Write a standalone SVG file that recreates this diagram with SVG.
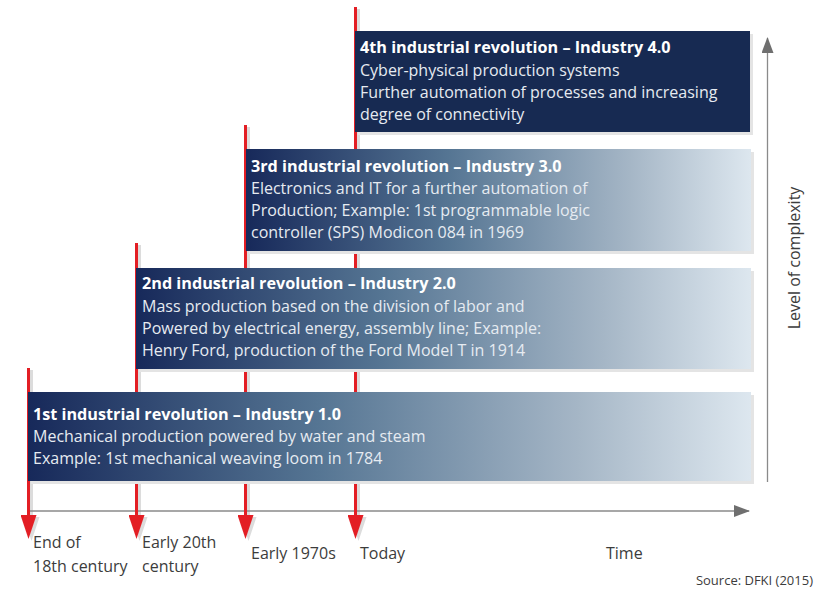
<svg xmlns="http://www.w3.org/2000/svg" width="818" height="592" viewBox="0 0 818 592">
  <defs>
    <linearGradient id="fade" x1="0" y1="0" x2="1" y2="0">
      <stop offset="0" stop-color="#17295a"/>
      <stop offset="0.4" stop-color="#557593"/>
      <stop offset="0.76" stop-color="#a5b6c6"/>
      <stop offset="1" stop-color="#dde7ef"/>
    </linearGradient>
    <!-- arrowheads drawn pointing along +x; orient="auto" turns them with the line -->
    <marker id="redHead" viewBox="0 0 24 16" refX="12" refY="8" markerWidth="24" markerHeight="16" markerUnits="userSpaceOnUse" orient="auto">
      <path d="M0,0 L24,8 L0,16 Z" fill="#e31e24"/>
    </marker>
    <marker id="redHeadShadow" viewBox="0 0 24 16" refX="12" refY="8" markerWidth="24" markerHeight="16" markerUnits="userSpaceOnUse" orient="auto">
      <path d="M0,0 L24,8 L0,16 Z" fill="#dcdcdc"/>
    </marker>
    <marker id="grayHead" viewBox="0 0 16 12" refX="15" refY="6" markerWidth="16" markerHeight="12" markerUnits="userSpaceOnUse" orient="auto">
      <path d="M0,0 L16,6 L0,12 Z" fill="#6f6f6f"/>
    </marker>
  </defs>
  <style>
    .shadow { fill: #e4e4e4; }
    .box { fill: url(#fade); }
    .solid { fill: #172a52; }
    .title { font-family: "Open Sans", "Noto Sans", sans-serif; font-size: 16.2px; font-weight: bold; fill: #ffffff; }
    .body { font-family: "Open Sans", "Noto Sans", sans-serif; font-size: 16px; fill: #e6ebf1; }
    .label { font-family: "Open Sans", "Noto Sans", sans-serif; font-size: 16px; fill: #3c3c3c; }
    .src { font-family: "Open Sans", "Noto Sans", sans-serif; font-size: 13px; fill: #3c3c3c; }
    .era { stroke: #e31e24; stroke-width: 3; fill: none; marker-end: url(#redHead); }
    .eraShadow { stroke: #dcdcdc; stroke-width: 3; fill: none; marker-end: url(#redHeadShadow); }
    .axis { stroke: #8a8a8a; stroke-width: 1.3; fill: none; marker-end: url(#grayHead); }
  </style>

  <rect width="818" height="592" fill="#ffffff"/>

  <!-- time markers and the two axes -->
  <g id="connectors">
    <g id="marker-shadows">
      <path class="eraShadow" d="M31.5,370 V529"/>
      <path class="eraShadow" d="M139.5,245 V529"/>
      <path class="eraShadow" d="M248.5,127 V529"/>
      <path class="eraShadow" d="M358.5,9 V529"/>
    </g>
    <path class="axis" d="M28,511 H749"/>
    <path class="axis" d="M767.5,482 V38"/>
    <path class="era" d="M28.5,368 V527"/>
    <path class="era" d="M136.5,243 V527"/>
    <path class="era" d="M245.5,125 V527"/>
    <path class="era" d="M355.5,7 V527"/>
  </g>

  <!-- stages, from the top one down; each box covers the lines behind it -->
  <g id="industry4">
    <rect class="shadow" x="358" y="34" width="395" height="101"/>
    <rect class="solid" x="355" y="31" width="395" height="101"/>
    <text class="title" x="360" y="53">4th industrial revolution – Industry 4.0</text>
    <text class="body" x="360" y="76">Cyber-physical production systems</text>
    <text class="body" x="360" y="98">Further automation of processes and increasing</text>
    <text class="body" x="360" y="120">degree of connectivity</text>
  </g>

  <g id="industry3">
    <rect class="shadow" x="249" y="152" width="505" height="102"/>
    <rect class="box" x="246" y="149" width="505" height="102"/>
    <text class="title" x="251" y="172">3rd industrial revolution – Industry 3.0</text>
    <text class="body" x="251" y="194">Electronics and IT for a further automation of</text>
    <text class="body" x="251" y="216">Production; Example: 1st programmable logic</text>
    <text class="body" x="251" y="238">controller (SPS) Modicon 084 in 1969</text>
  </g>

  <g id="industry2">
    <rect class="shadow" x="139" y="271" width="615" height="101"/>
    <rect class="box" x="136" y="268" width="615" height="101"/>
    <text class="title" x="142" y="289">2nd industrial revolution – Industry 2.0</text>
    <text class="body" x="142" y="312">Mass production based on the division of labor and</text>
    <text class="body" x="142" y="334">Powered by electrical energy, assembly line; Example:</text>
    <text class="body" x="142" y="356">Henry Ford, production of the Ford Model T in 1914</text>
  </g>

  <g id="industry1">
    <rect class="shadow" x="31" y="395" width="723" height="89"/>
    <rect class="box" x="28" y="392" width="723" height="89"/>
    <text class="title" x="33" y="420">1st industrial revolution – Industry 1.0</text>
    <text class="body" x="33" y="442">Mechanical production powered by water and steam</text>
    <text class="body" x="33" y="464">Example: 1st mechanical weaving loom in 1784</text>
  </g>

  <!-- axis labels -->
  <g id="time-labels">
    <text class="label" x="33" y="548">End of</text>
    <text class="label" x="33" y="572">18th century</text>
    <text class="label" x="142" y="548">Early 20th</text>
    <text class="label" x="142" y="572">century</text>
    <text class="label" x="251" y="559">Early 1970s</text>
    <text class="label" x="360" y="559">Today</text>
    <text class="label" x="606" y="559">Time</text>
  </g>
  <text class="label" transform="translate(800,258) rotate(-90)" text-anchor="middle">Level of complexity</text>
  <text class="src" x="813" y="585" text-anchor="end">Source: DFKI (2015)</text>
</svg>
